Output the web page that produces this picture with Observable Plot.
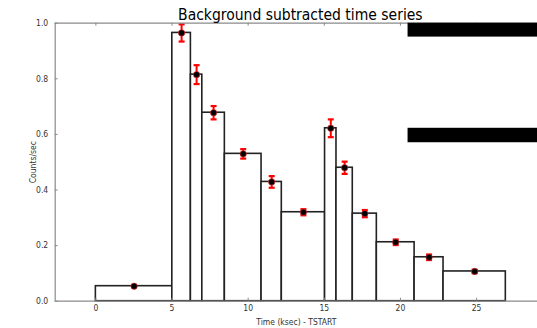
<!DOCTYPE html>
<html>
<head>
<meta charset="utf-8">
<script src="https://cdn.jsdelivr.net/npm/d3@7"></script>
<script src="https://cdn.jsdelivr.net/npm/@observablehq/plot@0.6"></script>
<style>
  html, body { margin: 0; padding: 0; background: #fff; overflow: hidden; }
  #chart { width: 537px; height: 328px; overflow: hidden; }
</style>
</head>
<body>
<div id="chart"></div>
<script>
const title = "Background subtracted time series";
const xLabel = "Time (ksec) - TSTART";
const yLabel = "Counts/sec";

// bin edges (ksec) and rates
const binStart = [0, 5.02, 6.24, 6.99, 8.47, 10.88, 12.21, 15.05, 15.80, 16.87, 18.45, 20.93, 22.83];
const binEnd   = [5.02, 6.24, 6.99, 8.47, 10.88, 12.21, 15.05, 15.80, 16.87, 18.45, 20.93, 22.83, 26.92];
const rate     = [0.054, 0.965, 0.815, 0.678, 0.530, 0.429, 0.320, 0.622, 0.480, 0.315, 0.212, 0.158, 0.107];
const rateErr  = [0.003, 0.031, 0.034, 0.024, 0.017, 0.021, 0.011, 0.032, 0.022, 0.013, 0.010, 0.010, 0.006];

const xTicks = [0, 5, 10, 15, 20, 25];
const yTicks = [0.0, 0.2, 0.4, 0.6, 0.8, 1.0];
const xDomain = [-2.67, 29.0];
const yDomain = [0, 1];

// black legend bands at the top right (as drawn in the source)
const bandX1 = [20.5, 20.5];
const bandX2 = [29.0, 29.0];
const bandY1 = [0.950, 0.570];
const bandY2 = [1.000, 0.622];

const bins = binStart.map((s, i) => ({
  x1: s, x2: binEnd[i], xc: (s + binEnd[i]) / 2,
  y: rate[i], lo: rate[i] - rateErr[i], hi: rate[i] + rateErr[i]
}));
const bands = bandX1.map((x, i) => ({x1: x, x2: bandX2[i], y1: bandY1[i], y2: bandY2[i]}));

const capSymbol = {
  draw(ctx, size) {
    const w = Math.sqrt(size / Math.PI);
    ctx.moveTo(-w, 0);
    ctx.lineTo(w, 0);
  }
};

const W = 537, H = 328, ML = 54.7, MR = 0, MT = 22.7, MB = 27.3;
const frameW = W - ML - MR, frameH = H - MT - MB, tickLen = 3;
const spine = "#8a8a8a";
const font = "DejaVu Sans Condensed";

const chart = Plot.plot({
  width: W,
  height: H,
  marginLeft: ML,
  marginRight: MR,
  marginTop: MT,
  marginBottom: MB,
  style: {fontFamily: font, fontSize: "8.5px", color: "#333", background: "#fff"},
  x: {domain: xDomain},
  y: {domain: yDomain},
  marks: [
    Plot.rect(bins, {x1: "x1", x2: "x2", y1: 0, y2: "y", fill: "white", stroke: "#222", strokeWidth: 1.6}),
    Plot.ruleX(bins, {x: "xc", y1: "lo", y2: "hi", stroke: "#ff0000", strokeWidth: 2}),
    Plot.dot(bins, {x: "xc", y: "lo", r: 3, symbol: capSymbol, stroke: "#ff0000", strokeWidth: 2.2}),
    Plot.dot(bins, {x: "xc", y: "hi", r: 3, symbol: capSymbol, stroke: "#ff0000", strokeWidth: 2.2}),
    Plot.dot(bins, {x: "xc", y: "y", r: 3.2, fill: "black", stroke: "#ff3030", strokeWidth: 0.6}),
    // spines
    Plot.ruleY([yDomain[0], yDomain[1]], {stroke: spine, strokeWidth: 1.2}),
    Plot.ruleX([xDomain[0]], {stroke: spine, strokeWidth: 1.2}),
    // inward ticks
    Plot.ruleX(xTicks, {insetTop: frameH - tickLen, stroke: spine}),
    Plot.ruleX(xTicks, {insetBottom: frameH - tickLen, stroke: spine}),
    Plot.ruleY(yTicks, {insetRight: frameW - tickLen, stroke: spine}),
    Plot.axisX({ticks: xTicks, tickSize: 0, tickPadding: 4, tickFormat: d3.format("d"), label: xLabel, labelAnchor: "center", labelArrow: "none", labelOffset: 24, fontSize: 8.5}),
    Plot.axisY({ticks: yTicks, tickSize: 0, tickPadding: 7, tickFormat: d3.format(".1f"), label: yLabel, labelAnchor: "center", labelArrow: "none", labelOffset: 25, fontSize: 8.5}),
    // legend bands
    Plot.rect(bands, {x1: "x1", x2: "x2", y1: "y1", y2: "y2", fill: "black"}),
    Plot.text([title], {frameAnchor: "top", lineAnchor: "bottom", dy: -3, dx: 4, fontSize: 15.5, fill: "#000", fontFamily: font})
  ]
});
document.getElementById("chart").append(chart);
</script>
</body>
</html>
